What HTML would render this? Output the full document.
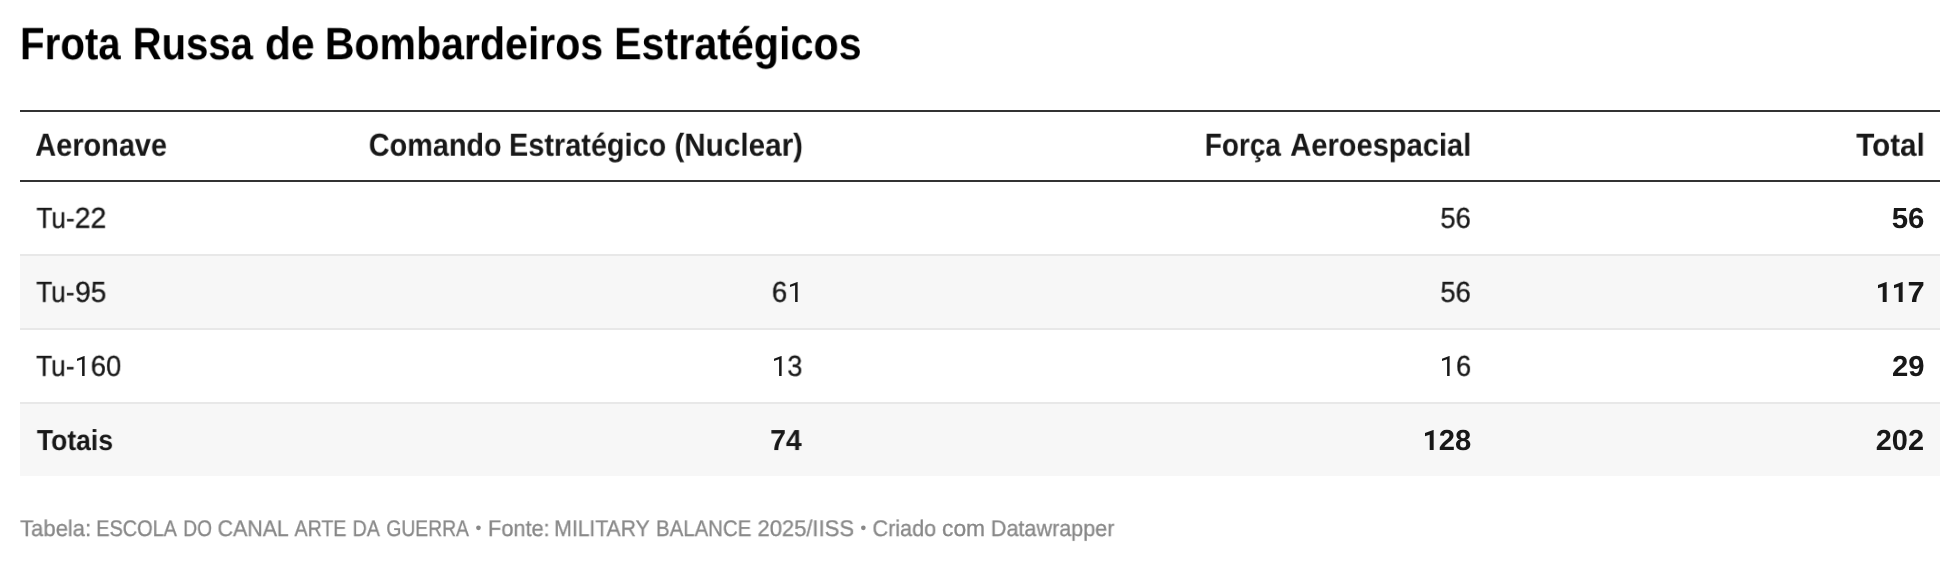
<!DOCTYPE html>
<html lang="pt"><head><meta charset="utf-8"><title>Frota Russa de Bombardeiros Estratégicos</title>
<style>
html,body{margin:0;padding:0;background:#ffffff;}
body{width:1960px;height:562px;position:relative;overflow:hidden;font-family:"Liberation Sans",sans-serif;}
.t{position:absolute;left:0;top:0;will-change:transform;text-rendering:geometricPrecision;white-space:nowrap;line-height:1;transform-origin:0 0;margin:0;padding:0;}
.ln{position:absolute;left:20px;width:1920px;height:2px;}
.bg{position:absolute;left:20px;width:1920px;height:72px;background:#f7f7f7;}
.one{position:absolute;overflow:visible;}
.bl{position:absolute;border-radius:50%;background:#888888;}
</style></head><body>
<div class="ln" style="top:110px;background:#333333"></div>
<div class="ln" style="top:180px;background:#333333"></div>
<div class="bg" style="top:256px"></div>
<div class="bg" style="top:404px"></div>
<div class="ln" style="top:254px;background:#e8e8e8"></div>
<div class="ln" style="top:328px;background:#e8e8e8"></div>
<div class="ln" style="top:402px;background:#e8e8e8"></div>
<div class="t" id="t1" style="font-size:45.45px;font-weight:700;color:#000000;transform:translate(19.98px,21.22px) scaleX(0.8862)">Frota</div>
<div class="t" id="t2" style="font-size:45.45px;font-weight:700;color:#000000;transform:translate(132.69px,21.22px) scaleX(0.8819)">Russa</div>
<div class="t" id="t3" style="font-size:45.45px;font-weight:700;color:#000000;transform:translate(264.87px,21.22px) scaleX(0.9384)">de</div>
<div class="t" id="t4" style="font-size:45.45px;font-weight:700;color:#000000;transform:translate(324.81px,21.22px) scaleX(0.9035)">Bombardeiros</div>
<div class="t" id="t5" style="font-size:45.45px;font-weight:700;color:#000000;transform:translate(614.02px,21.22px) scaleX(0.9076)">Estratégicos</div>
<div class="t" id="h1" style="font-size:31.82px;font-weight:700;color:#181818;transform:translate(35.24px,129.70px) scaleX(0.9091)">Aeronave</div>
<div class="t" id="h2a" style="font-size:31.82px;font-weight:700;color:#181818;transform:translate(368.73px,129.70px) scaleX(0.9057)">Comando</div>
<div class="t" id="h2b" style="font-size:31.82px;font-weight:700;color:#181818;transform:translate(508.98px,129.70px) scaleX(0.9080)">Estratégico</div>
<div class="t" id="h2c" style="font-size:31.82px;font-weight:700;color:#181818;transform:translate(674.44px,129.70px) scaleX(0.9320)">(Nuclear)</div>
<div class="t" id="h3a" style="font-size:31.82px;font-weight:700;color:#181818;transform:translate(1204.76px,129.70px) scaleX(0.8789)">Força</div>
<div class="t" id="h3b" style="font-size:31.82px;font-weight:700;color:#181818;transform:translate(1290.24px,129.70px) scaleX(0.9138)">Aeroespacial</div>
<div class="t" id="h4" style="font-size:31.82px;font-weight:700;color:#181818;transform:translate(1856.24px,129.70px) scaleX(0.9311)">Total</div>
<div class="t" id="r1c1" style="-webkit-text-stroke:0.3px #181818;font-size:28.92px;font-weight:400;color:#181818;transform:translate(36.44px,204.76px) scaleX(0.9024)">Tu-</div>
<div class="t" id="r1c1b" style="-webkit-text-stroke:0.3px #181818;font-size:28.92px;font-weight:400;color:#181818;transform:translate(74.70px,204.76px) scaleX(0.9853)">22</div>
<div class="t" id="r1c3" style="-webkit-text-stroke:0.3px #181818;font-size:28.92px;font-weight:400;color:#181818;transform:translate(1440.38px,204.76px) scaleX(0.9473)">56</div>
<div class="t" id="r1c4" style="font-size:28.92px;font-weight:700;color:#181818;transform:translate(1891.76px,205.30px) scaleX(1.0170)">56</div>
<div class="t" id="r2c1" style="-webkit-text-stroke:0.3px #181818;font-size:28.92px;font-weight:400;color:#181818;transform:translate(36.27px,278.78px) scaleX(0.9035)">Tu-</div>
<div class="t" id="r2c1b" style="-webkit-text-stroke:0.3px #181818;font-size:28.92px;font-weight:400;color:#181818;transform:translate(75.16px,278.78px) scaleX(0.9729)">95</div>
<div class="t" id="r2c2" style="-webkit-text-stroke:0.3px #181818;font-size:28.92px;font-weight:400;color:#181818;transform:translate(771.81px,278.78px) scaleX(0.9580)">6</div>
<div class="t" id="r2c3" style="-webkit-text-stroke:0.3px #181818;font-size:28.92px;font-weight:400;color:#181818;transform:translate(1440.38px,278.78px) scaleX(0.9473)">56</div>
<div class="t" id="r2c4" style="font-size:28.92px;font-weight:700;color:#181818;transform:translate(1907.49px,279.12px) scaleX(1.0713)">7</div>
<div class="t" id="r3c1a" style="-webkit-text-stroke:0.3px #181818;font-size:28.92px;font-weight:400;color:#181818;transform:translate(36.19px,352.77px) scaleX(0.9054)">Tu-</div>
<div class="t" id="r3c1b" style="-webkit-text-stroke:0.3px #181818;font-size:28.92px;font-weight:400;color:#181818;transform:translate(90.70px,352.77px) scaleX(0.9532)">60</div>
<div class="t" id="r3c2" style="-webkit-text-stroke:0.3px #181818;font-size:28.92px;font-weight:400;color:#181818;transform:translate(787.39px,352.77px) scaleX(0.9315)">3</div>
<div class="t" id="r3c3" style="-webkit-text-stroke:0.3px #181818;font-size:28.92px;font-weight:400;color:#181818;transform:translate(1456.01px,352.77px) scaleX(0.9392)">6</div>
<div class="t" id="r3c4" style="font-size:28.92px;font-weight:700;color:#181818;transform:translate(1891.91px,353.34px) scaleX(1.0137)">29</div>
<div class="t" id="r4c1" style="font-size:28.92px;font-weight:700;color:#181818;transform:translate(36.85px,427.06px) scaleX(0.9177)">Totais</div>
<div class="t" id="r4c2" style="font-size:28.92px;font-weight:700;color:#181818;transform:translate(770.15px,427.06px) scaleX(0.9825)">74</div>
<div class="t" id="r4c3" style="font-size:28.92px;font-weight:700;color:#181818;transform:translate(1438.66px,427.06px) scaleX(1.0103)">28</div>
<div class="t" id="r4c4" style="font-size:28.92px;font-weight:700;color:#181818;transform:translate(1875.72px,427.06px) scaleX(1.0022)">202</div>
<div class="t" id="f1" style="-webkit-text-stroke:0.3px #888888;font-size:22.73px;font-weight:400;color:#888888;transform:translate(20.12px,517.03px) scaleX(0.9690)">Tabela:</div>
<div class="t" id="f2" style="-webkit-text-stroke:0.3px #888888;font-size:22.73px;font-weight:400;color:#888888;transform:translate(96.22px,517.03px) scaleX(0.8749)">ESCOLA</div>
<div class="t" id="f3" style="-webkit-text-stroke:0.3px #888888;font-size:22.73px;font-weight:400;color:#888888;transform:translate(183.26px,517.03px) scaleX(0.8414)">DO</div>
<div class="t" id="f4" style="-webkit-text-stroke:0.3px #888888;font-size:22.73px;font-weight:400;color:#888888;transform:translate(217.53px,517.03px) scaleX(0.9421)">CANAL</div>
<div class="t" id="f5" style="-webkit-text-stroke:0.3px #888888;font-size:22.73px;font-weight:400;color:#888888;transform:translate(294.50px,517.03px) scaleX(0.8624)">ARTE</div>
<div class="t" id="f6" style="-webkit-text-stroke:0.3px #888888;font-size:22.73px;font-weight:400;color:#888888;transform:translate(352.62px,517.03px) scaleX(0.8616)">DA</div>
<div class="t" id="f7" style="-webkit-text-stroke:0.3px #888888;font-size:22.73px;font-weight:400;color:#888888;transform:translate(386.28px,517.03px) scaleX(0.8502)">GUERRA</div>
<div class="t" id="f8" style="-webkit-text-stroke:0.3px #888888;font-size:22.73px;font-weight:400;color:#888888;transform:translate(487.99px,517.03px) scaleX(0.9572)">Fonte:</div>
<div class="t" id="f9" style="-webkit-text-stroke:0.3px #888888;font-size:22.73px;font-weight:400;color:#888888;transform:translate(554.26px,517.03px) scaleX(0.9296)">MILITARY</div>
<div class="t" id="f10" style="-webkit-text-stroke:0.3px #888888;font-size:22.73px;font-weight:400;color:#888888;transform:translate(656.01px,517.03px) scaleX(0.8983)">BALANCE</div>
<div class="t" id="f11" style="-webkit-text-stroke:0.3px #888888;font-size:22.73px;font-weight:400;color:#888888;transform:translate(757.46px,517.03px) scaleX(0.9670)">2025/IISS</div>
<div class="t" id="f12" style="-webkit-text-stroke:0.3px #888888;font-size:22.73px;font-weight:400;color:#888888;transform:translate(872.43px,517.03px) scaleX(0.9521)">Criado</div>
<div class="t" id="f13" style="-webkit-text-stroke:0.3px #888888;font-size:22.73px;font-weight:400;color:#888888;transform:translate(941.99px,517.03px) scaleX(1.0051)">com</div>
<div class="t" id="f14" style="-webkit-text-stroke:0.3px #888888;font-size:22.73px;font-weight:400;color:#888888;transform:translate(990.84px,517.03px) scaleX(0.9502)">Datawrapper</div>
<svg class="one" id="one0" style="left:789.54px;top:282.00px" width="7.63" height="20.00" viewBox="171 0 558 1463"><path transform="translate(0,1463) scale(1,-1)" d="M729 0H544V1233L171 1096V1264L700 1463H729Z" fill="#181818"/></svg>
<svg class="one" id="one1" style="left:773.94px;top:356.00px" width="7.63" height="20.00" viewBox="171 0 558 1463"><path transform="translate(0,1463) scale(1,-1)" d="M729 0H544V1233L171 1096V1264L700 1463H729Z" fill="#181818"/></svg>
<svg class="one" id="one2" style="left:1441.89px;top:356.00px" width="7.63" height="20.00" viewBox="171 0 558 1463"><path transform="translate(0,1463) scale(1,-1)" d="M729 0H544V1233L171 1096V1264L700 1463H729Z" fill="#181818"/></svg>
<svg class="one" id="one3" style="left:76.89px;top:356.00px" width="7.63" height="20.00" viewBox="171 0 558 1463"><path transform="translate(0,1463) scale(1,-1)" d="M729 0H544V1233L171 1096V1264L700 1463H729Z" fill="#181818"/></svg>
<svg class="one" id="one4" style="left:1425.17px;top:430.07px" width="8.67" height="19.93" viewBox="167 0 634 1458"><path transform="translate(0,1458) scale(1,-1)" d="M801 0H512V1114L167 1007V1242L770 1458H801Z" fill="#181818"/></svg>
<svg class="one" id="one5" style="left:1878.07px;top:282.07px" width="8.67" height="19.93" viewBox="167 0 634 1458"><path transform="translate(0,1458) scale(1,-1)" d="M801 0H512V1114L167 1007V1242L770 1458H801Z" fill="#181818"/></svg>
<svg class="one" id="one6" style="left:1894.07px;top:282.07px" width="8.67" height="19.93" viewBox="167 0 634 1458"><path transform="translate(0,1458) scale(1,-1)" d="M801 0H512V1114L167 1007V1242L770 1458H801Z" fill="#181818"/></svg>
<svg class="one" style="left:474px;top:523px" width="10" height="10" viewBox="0 0 10 10"><circle cx="4.45" cy="4.80" r="2.35" fill="#888888"/></svg>
<svg class="one" style="left:859px;top:523px" width="10" height="10" viewBox="0 0 10 10"><circle cx="4.35" cy="4.80" r="2.35" fill="#888888"/></svg>
</body></html>
